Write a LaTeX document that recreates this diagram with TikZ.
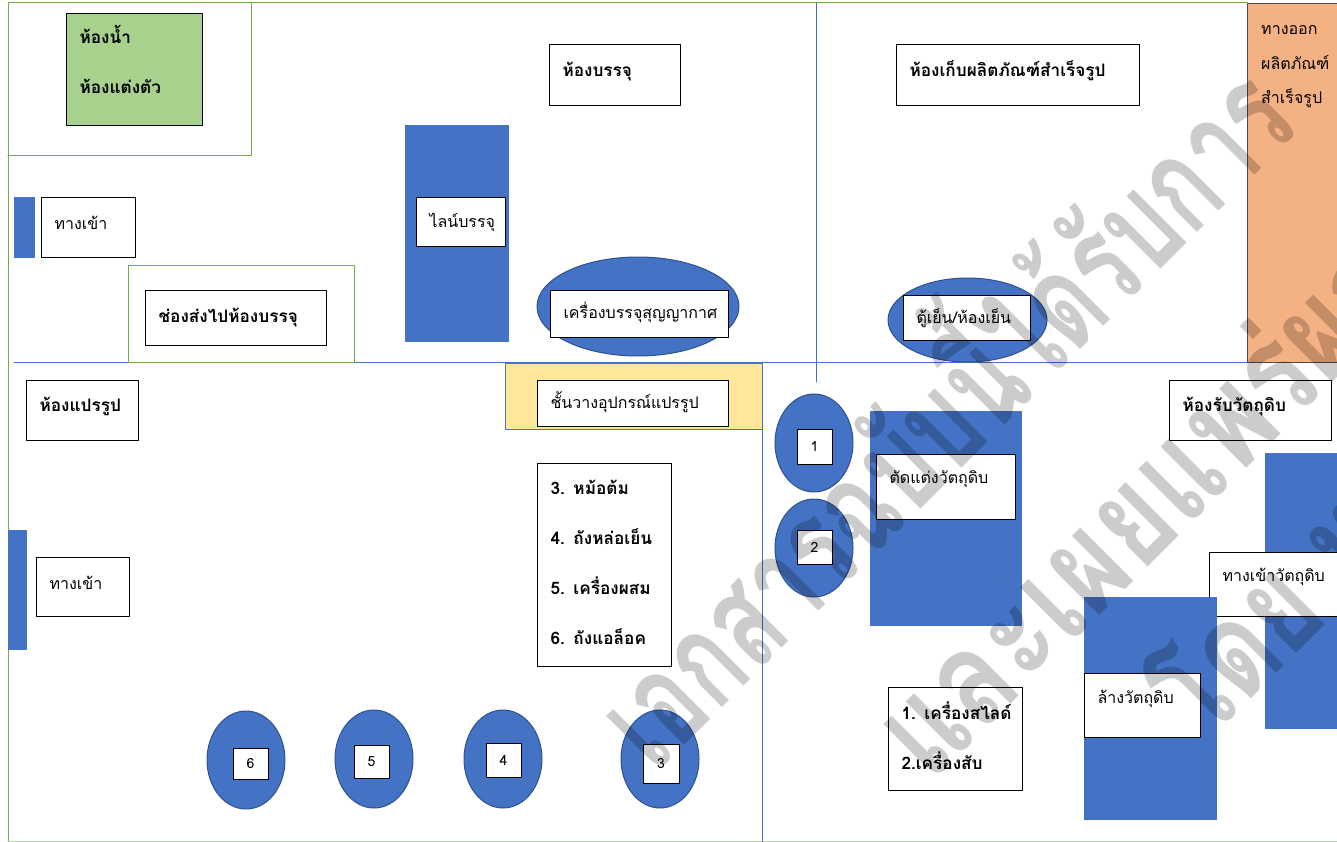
\documentclass[tikz,border=0pt]{standalone}
\usepackage{fontspec}
\setmainfont[Script=Thai]{Loma}
\usetikzlibrary{shapes.geometric}
\definecolor{wallgreen}{HTML}{70AD47}
\definecolor{wallblue}{HTML}{4472C4}
\definecolor{edgeblue}{HTML}{2F528F}
\definecolor{roomgreen}{HTML}{A9D18E}
\definecolor{roomorange}{HTML}{F4B183}
\definecolor{roomyellow}{HTML}{FFE699}
\tikzset{
	plain/.style={font=\fontsize{16}{50}\selectfont},
	heavy/.style={font=\fontsize{17.2}{50}\selectfont\bfseries},
	labelbox/.style={draw=black,fill=white,line width=1pt,anchor=north west,inner xsep=13pt,inner ysep=0pt,align=left},
	numbox/.style={draw=black,fill=white,line width=1pt,inner sep=0pt,font=\fontsize{14}{16}\selectfont},
	machine/.style={ellipse,draw=edgeblue,fill=wallblue,line width=1pt,inner sep=0pt,minimum width=78pt,minimum height=98pt},
	station/.style={rectangle,draw=wallblue,fill=wallblue,line width=.6pt,anchor=north west,inner sep=0pt},
	stamp/.style={text=black,text opacity=.2,transform shape,rotate=45,xscale=.68,anchor=base west,inner sep=0pt,font=\fontsize{135}{135}\selectfont\bfseries}
}
\begin{document}
\begin{tikzpicture}[x=1pt,y=-1pt,line join=round,line cap=round]
	\useasboundingbox (0,0) rectangle (1337,842);
	\draw[wallgreen,line width=1pt] (8,842)--(8,3)--(1247,3);
	\draw[wallgreen!50,line width=1pt] (8,841)--(1337,841);
	\draw[wallgreen,line width=1pt] (8,156)--(251,156)--(251,3);
	\draw[wallblue,line width=1pt] (14,362)--(1337,362) (816,3)--(816,382) (762,362)--(762,842);
	\draw[wallgreen,line width=1pt] (128,362)--(128,265)--(354,265)--(354,362)--cycle;
	\node[labelbox,fill=roomgreen,heavy,text width=110pt,text height=30pt,text depth=82pt] (bathroom) at (66,13) {ห้องน้ำ\\ห้องแต่งตัว};
	\node[station,minimum width=20pt,minimum height=60pt] (doortop) at (14,197) {};
	\node[labelbox,plain,text width=68pt,text height=32pt,text depth=28pt] (entrytop) at (41,197) {ทางเข้า};
	\node[labelbox,heavy,text width=155pt,text height=32pt,text depth=23pt] (chute) at (145,290) {ช่องส่งไปห้องบรรจุ};
	\node[station,minimum width=103pt,minimum height=216pt] (packline) at (405,125) {};
	\node[labelbox,plain,text width=63pt,text height=30pt,text depth=19pt] (packlabel) at (416,197) {ไลน์บรรจุ};
	\node[labelbox,heavy,text width=105pt,text height=32pt,text depth=29pt] (packroom) at (549,44) {ห้องบรรจุ};
	\node[ellipse,draw=edgeblue,fill=wallblue,line width=1pt,inner sep=0pt,minimum width=202pt,minimum height=99pt] (vacuum) at (638,306.5) {};
	\node[labelbox,plain,text width=152pt,text height=28pt,text depth=19pt] (vacuumlabel) at (550,290) {เครื่องบรรจุสุญญากาศ};
	\node[labelbox,heavy,text width=217pt,text height=32pt,text depth=29pt] (storeroom) at (896,44) {ห้องเก็บผลิตภัณฑ์สำเร็จรูป};
	\node[rectangle,draw=black!70,fill=roomorange,line width=1pt,anchor=north west,inner sep=0pt,minimum width=92pt,minimum height=359pt] (exit) at (1247,3) {};
	\node[plain,anchor=base west,inner sep=0pt,align=left] (exitlabel) at (1261,35) {ทางออก};
	\node[plain,anchor=base west,inner sep=0pt,align=left] (exitlabelb) at (1261,70) {ผลิตภัณฑ์};
	\node[plain,anchor=base west,inner sep=0pt,align=left] (exitlabelc) at (1261,104) {สำเร็จรูป};
	\node[ellipse,draw=edgeblue,fill=wallblue,line width=1pt,inner sep=0pt,minimum width=159pt,minimum height=84pt] (fridge) at (967.5,320) {};
	\node[labelbox,plain,text width=101pt,text height=28pt,text depth=17pt] (fridgelabel) at (903,295) {ตู้เย็น/ห้องเย็น};
	\node[labelbox,heavy,text width=86pt,text height=31pt,text depth=29pt] (processroom) at (26,380) {ห้องแปรรูป};
	\node[rectangle,draw=wallblue,fill=roomyellow,line width=1pt,anchor=north west,inner sep=0pt,minimum width=257pt,minimum height=66pt] (shelf) at (505,363) {};
	\node[labelbox,plain,text width=165pt,text height=28pt,text depth=18pt] (shelflabel) at (537,380) {ชั้นวางอุปกรณ์แปรรูป};
	\node[labelbox,heavy,text width=108pt,text height=31pt,text depth=172pt] (cooklist) at (537,463) {3. หม้อต้ม\\4. ถังหล่อเย็น\\5. เครื่องผสม\\6. ถังแอล็อค};
	\node[station,minimum width=18pt,minimum height=119pt] (doorleft) at (8,530) {};
	\node[labelbox,plain,text width=67pt,text height=32pt,text depth=27pt] (entryleft) at (36,557) {ทางเข้า};
	\node[machine] (mfive) at (374,759) {};
	\node[machine] (msix) at (246,760) {};
	\node[machine] (mfour) at (503,759) {};
	\node[machine] (mthree) at (660,759) {};
	\node[machine] (mone) at (814,443) {};
	\node[machine] (mtwo) at (814,548) {};
	\node[numbox,minimum width=35pt,minimum height=31pt] (nsix) at (250.5,763.5) {6};
	\node[numbox,minimum width=35pt,minimum height=33pt] (nfive) at (371.5,761.5) {5};
	\node[numbox,minimum width=35pt,minimum height=34pt] (nfour) at (503.5,760) {4};
	\node[numbox,minimum width=36pt,minimum height=39pt] (nthree) at (661,763.5) {3};
	\node[numbox,minimum width=35pt,minimum height=35pt] (none) at (814.5,446.5) {1};
	\node[numbox,minimum width=35pt,minimum height=34pt] (ntwo) at (814.5,547) {2};
	\node[station,minimum width=151pt,minimum height=214pt] (trimtable) at (870,411) {};
	\node[labelbox,plain,text width=113pt,text height=29pt,text depth=36pt] (trimlabel) at (876,454) {ตัดแต่งวัตถุดิบ};
	\node[labelbox,heavy,text width=108pt,text height=32pt,text depth=71pt] (cutlist) at (888,687) {\mbox{1. เครื่องสไลด์}\\2.เครื่องสับ};
	\node[labelbox,heavy,text width=136pt,text height=31pt,text depth=29pt] (rawroom) at (1169,380) {ห้องรับวัตถุดิบ};
	\node[station,minimum width=74pt,minimum height=275pt] (rawtable) at (1265,453) {};
	\node[labelbox,plain,text width=130pt,text height=29pt,text depth=35pt] (rawlabel) at (1209,552) {ทางเข้าวัตถุดิบ};
	\node[station,minimum width=132pt,minimum height=222pt] (washtable) at (1084,597) {};
	\node[labelbox,plain,text width=90pt,text height=30pt,text depth=34pt] (washlabel) at (1084,673) {ล้างวัตถุดิบ};
	\begin{scope}
		\clip (0,0) rectangle (1337,842);
		\node[stamp] (stampa) at (655,775) {เอกสารฉบับนี้ได้รับการ};
		\node[stamp,xscale=1.19] (stampb) at (930,785) {และเผยแพร่ผล};
		\node[stamp,xscale=1.1] (stampc) at (1205,745) {โดย ห};
	\end{scope}
\end{tikzpicture}
\end{document}
